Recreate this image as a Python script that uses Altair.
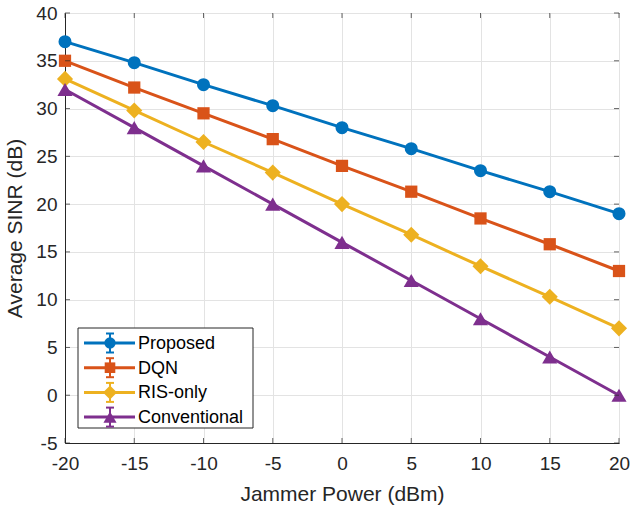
import altair as alt
import pandas as pd

# Jammer power sweep (dBm) and average SINR (dB) of each scheme
jammer_power = [-20, -15, -10, -5, 0, 5, 10, 15, 20]
proposed = [37.0, 34.8, 32.5, 30.3, 28.0, 25.8, 23.5, 21.3, 19.0]
dqn = [35.0, 32.2, 29.5, 26.8, 24.0, 21.3, 18.5, 15.8, 13.0]
ris_only = [33.1, 29.8, 26.5, 23.3, 20.0, 16.8, 13.5, 10.3, 7.0]
conventional = [32.0, 28.0, 24.0, 20.0, 16.0, 12.0, 8.0, 4.0, 0.0]
sinr_ticks = [-5, 0, 5, 10, 15, 20, 25, 30, 35, 40]

series_names = ["Proposed", "DQN", "RIS-only", "Conventional"]
series_values = [proposed, dqn, ris_only, conventional]
colors = ["#0072BD", "#D95319", "#EDB120", "#7E2F8E"]
shapes = ["circle", "square", "diamond", "triangle-up"]
marker_sizes = [170, 150, 260, 230]

rows = []
for name, vals in zip(series_names, series_values):
    for xv, yv in zip(jammer_power, vals):
        rows.append({"power": xv, "sinr": yv, "scheme": name})
df = pd.DataFrame(rows)

font = "Liberation Sans"
ink = "#262626"
W, H = 554, 430

color_scale = alt.Scale(domain=series_names, range=colors)
x_scale = alt.Scale(domain=[-20, 20], nice=False)
y_scale = alt.Scale(domain=[-5, 40], nice=False)

x_enc = alt.X(
    "power:Q",
    title="Jammer Power (dBm)",
    scale=x_scale,
    axis=alt.Axis(values=jammer_power, labelExpr="datum.value + ''", labelPadding=11,
                  titlePadding=10, labelFlush=False),
)
y_enc = alt.Y(
    "sinr:Q",
    title="Average SINR (dB)",
    scale=y_scale,
    axis=alt.Axis(values=sinr_ticks, labelExpr="datum.value + ''",
                  labelPadding=8, titlePadding=10, labelFlush=False),
)

lines = alt.Chart(df).mark_line(strokeWidth=3).encode(
    x=x_enc,
    y=y_enc,
    color=alt.Color("scheme:N", scale=color_scale, legend=None),
    detail="scheme:N",
)

# One marker layer per scheme so each gets its own shape and size
point_layers = []
for name, col, shp, sz in zip(series_names, colors, shapes, marker_sizes):
    point_layers.append(
        alt.Chart(df).transform_filter(alt.datum.scheme == name)
        .mark_point(filled=True, opacity=1, color=col, shape=shp, size=sz)
        .encode(x=alt.X("power:Q", scale=x_scale), y=alt.Y("sinr:Q", scale=y_scale))
    )

# Inward tick marks on all four sides of the axes box
xt = pd.DataFrame({"power": jammer_power})
yt = pd.DataFrame({"sinr": sinr_ticks})
tick_layers = [
    alt.Chart(xt).mark_tick(color=ink, thickness=1, size=5).encode(
        x=alt.X("power:Q", scale=x_scale), y=alt.value(H - 2.5)),
    alt.Chart(xt).mark_tick(color=ink, thickness=1, size=5).encode(
        x=alt.X("power:Q", scale=x_scale), y=alt.value(2.5)),
    alt.Chart(yt).mark_tick(color=ink, thickness=1, size=5).encode(
        y=alt.Y("sinr:Q", scale=y_scale), x=alt.value(2.5)),
    alt.Chart(yt).mark_tick(color=ink, thickness=1, size=5).encode(
        y=alt.Y("sinr:Q", scale=y_scale), x=alt.value(W - 2.5)),
]

# Boxed legend in the lower-left corner: line, marker with error bar, label
one = pd.DataFrame({"k": [0]})
legend_layers = [
    alt.Chart(one).mark_rect(fill="white", stroke=ink, strokeWidth=1).encode(
        x=alt.value(13), x2=alt.value(188), y=alt.value(315), y2=alt.value(415)
    )
]
for i, (name, col, shp, sz) in enumerate(zip(series_names, colors, shapes, marker_sizes)):
    yc = 330 + 24.7 * i
    legend_layers.append(
        alt.Chart(one).mark_rule(color=col, strokeWidth=3).encode(
            x=alt.value(19), x2=alt.value(70), y=alt.value(yc)
        )
    )
    legend_layers.append(
        alt.Chart(one).mark_rule(color=col, strokeWidth=2).encode(
            x=alt.value(45), y=alt.value(yc - 9.5), y2=alt.value(yc + 9.5)
        )
    )
    for dy in (-9.5, 9.5):
        legend_layers.append(
            alt.Chart(one).mark_rule(color=col, strokeWidth=2).encode(
                x=alt.value(41), x2=alt.value(49), y=alt.value(yc + dy)
            )
        )
    legend_layers.append(
        alt.Chart(one).mark_point(filled=True, size=sz * 0.75, opacity=1, color=col,
                                  shape=shp).encode(
            x=alt.value(45), y=alt.value(yc)
        )
    )
    legend_layers.append(
        alt.Chart(one).mark_text(align="left", baseline="middle", fontSize=18, font=font,
                                 color="#000000").encode(
            x=alt.value(73), y=alt.value(yc + 1), text=alt.value(name)
        )
    )

chart = alt.layer(lines, *point_layers, *tick_layers, *legend_layers).properties(
    width=W,
    height=H,
    background="white",
    autosize=alt.AutoSizeParams(type="none"),
    padding={"left": 65, "top": 13, "right": 11, "bottom": 65},
).configure_view(
    stroke=ink, strokeWidth=1
).configure_axis(
    labelFont=font,
    titleFont=font,
    labelFontSize=19,
    titleFontSize=21,
    titleFontWeight="normal",
    labelColor=ink,
    titleColor=ink,
    domainColor=ink,
    domainWidth=1,
    gridColor="#e3e3e3",
    gridWidth=1,
    ticks=False,
)

chart.save("out.html", embed_options={"renderer": "svg", "actions": False})
